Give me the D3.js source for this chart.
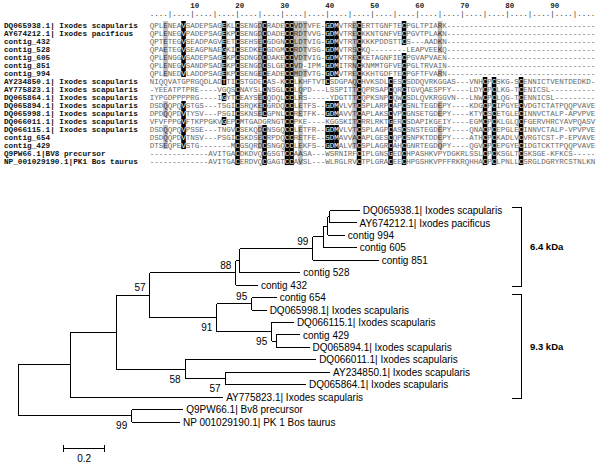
<!DOCTYPE html>
<html><head><meta charset="utf-8">
<script src="https://cdn.jsdelivr.net/npm/d3@7"></script>
<style>body{margin:0;background:#fff} svg{display:block}</style>
</head><body><svg id="c" width="600" height="473"></svg>
<script>
// ---------------- Alignment data ----------------
const seqNames = [
  "DQ065938.1| Ixodes scapularis","AY674212.1| Ixodes pacificus","contig_432","contig_528",
  "contig_605","contig_851","contig_994","AY234850.1| Ixodes scapularis",
  "AY775823.1| Ixodes scapularis","DQ065864.1| Ixodes scapularis","DQ065894.1| Ixodes scapularis",
  "DQ065998.1| Ixodes scapularis","DQ066011.1| Ixodes scapularis","DQ066115.1| Ixodes scapularis",
  "contig_654","contig_429","Q9PW66.1|BV8 precursor","NP_001029190.1|PK1 Bos taurus"
];
const seqs = [
  "QPLENEAVSADEPSAGEKLCSENGDCRADECCVDTVFE-GDMVTRECERTTGNFTECPGLTPIARK",
  "QPLENEGVPADEPSAGEKPCSENGDCDADECCRDTVVG-GDMVTRECKKNTGNFVECPGVTPLAKN",
  "QPTETEGVSEADPAGVEETCSEHSECGDGNCCLDTVIG-GDMVTRTCKKKPDDSTTCS---AADKN",
  "QPAETEGVSEAGPNAEGKICSEDKECGDGMCCRDTVSG-GDMVTRSCKQ--------LEAPVEEKQ",
  "QPLENGGVSADEPSAGEKPCSDNGDCDAKECCVDTVIG-GDMVTRECKETAGNFIECPGVAPVAEN",
  "QPLENEGVSANDPSADEKPCSENGDCSLGECCVD-IPM-GDMITRNCKNMMTGFVECPGLTRVAIN",
  "QPLENEDVLADDPSAGEKPCSENGECEADECCMDTVTG-GDMVTRECKKHTGDFTECPGFTFVARN",
  "NIQQVATGPRGQDLADTTICSTGDECAS-KCCLKHFTVTCSDGPAQCHVKSDLCESCSDDQVRKGGAS---VNHCPCSKG-SCENNICTVENTDEDKD-",
  "-YEEATPTPRE----VGQSCNAYSLCNSGLCCLQPD---LSSPITTCQPRSAPCQRCTGVQAESPFY----LDYCPCLKG-TCENICSL",
  "IYPGDPPPPRG----IGYTCEAYSECQDQLCCLRS-----YDGTTTCQPKSNPCQWCSDLQVKRGGVN---LNWCPCLQG-TCENNICSL",
  "DSDQQPQVSTGS---TSGICSRQKECGRDQCCLETFS--GDMVLVTCSPLARPCAPCSNLTEGDEPY----KDGCPCIPGYECVDGTCTATPQQPVAVE",
  "DPDQQPDVTYSV---PSGICSKNSECGPNLCCRETFK--GDMAVVTCAPLAKSCVPCGNSETGDEPY----KTYCSCETGLECINNVCTALP-APVPVE",
  "VFVFPPGVFTKPPGKVGEPCMTGADGRNGTCCPKE----KGGSKITCRRLRKTGERCSDAPIKGEIY----EGMCPCKLGLQCFGERVHRCYAVPQASV",
  "DSDQQPQVPSSE---TNGVCSEKQDCNSGQCCLETFR--GDMVLVTCSPLAGPCASCSNSTEGDEPY----QNACPCEPGLECINNVCTALP-VPVPVE",
  "DSDQQPDVTNSV---PSGICSKDSECRPDQCCRETFE--SDMAVVACAPLGESCQPCSNPKTDDEPY----ATHCPCKADLVCVRGTCST-P-EPVAVE",
  "DTSEQPEVSTG-------MCGSQRDCSNGQCCLEKFS--GDMALVTCSPLAGRCAHCGNRTEGDQPY----QGVCPCEPGYECIDGTCKTTPQQPVAVE",
  "-------------AVITGACDKDVQCGSGTCCAASA---WSRNIRFCIPLGNSGEDCHPASHKVPYDGKRLSSLCPCKSGLTCSKSGE-KFKCS",
  "-------------AVITGACERDVQCGAGTCCAVSL---WLRGLRVCTPLGRACEECHPGSHKVPFFRKRQHHACPCLPNLLCSRGLDGRYRCSTNLKN"
];
const alignLength = 99;
const rulerTicks = [10,20,30,40,50,60,70,80,90];
// shaded cells: column -> rows (1-based)
const blackCells = [
  {col:8, rows:"1-7,11-16"}, {col:17, rows:"1-8,10,13"}, {col:20, rows:"1-18"},
  {col:26, rows:"1-12,14-18"}, {col:31, rows:"1-18"}, {col:32, rows:"1-18"},
  {col:40, rows:"1-8,11,12,14-16"}, {col:41, rows:"1-7,11,12,14-16"}, {col:42, rows:"1-7,11,12,14-16"},
  {col:47, rows:"1-18"}, {col:54, rows:"8-18"}, {col:57, rows:"1-3,5-18"},
  {col:75, rows:"8-18"}, {col:77, rows:"8-18"}, {col:83, rows:"8-18"}
];
const grayCells = [
  {col:4, rows:"1-7,11,12,14-16"}, {col:25, rows:"1-7,10-12,14-16"},
  {col:33, rows:"1-7"}, {col:34, rows:"1-12,14-18"}, {col:35, rows:"1-5,7"},
  {col:46, rows:"1-16"}, {col:65, rows:"1-4,7,11,12,14-16"}
];

// ---------------- Tree data ----------------
const treeIds     = ["R","I","O","Q9PW66","NP","A","AY775823","B","C","N88r","N91","X","contig432","N99","contig528","Y","contig851","Z","contig605","W","contig994","DQ065938","AY674212","N95a","Q","contig654","DQ065998","DQ066115","N95b","contig429","DQ065894","DQ066011","C2","AY234850","DQ065864"];
const treeParents = ["",  "R","R","O",     "O", "I","I",       "A","A","B",   "B",  "N88r","N88r","X", "X",        "N99","N99",   "Y","Y",        "Z","Z",        "W",       "W",       "N91", "N91","N95a",    "N95a",    "Q",       "Q",   "N95b",     "N95b",    "C",      "C", "C2",      "C2"];
const branchLen   = [0,   0.249,0.545,0.248,0.232,0.221,0.736,0.163,0.332,0.413,0.321,0.019,0.106,0.351,0.291,0.050,0.317,0.021,0.161,0.011,0.083,0.144,0.128,0.168,0.264,0.120,0.072,0.107,0.021,0.115,0.161,0.630,0.192,0.505,0.389];
const leafText = {
  DQ065938:"DQ065938.1| Ixodes scapularis", AY674212:"AY674212.1| Ixodes pacificus",
  contig994:"contig 994", contig605:"contig 605", contig851:"contig 851", contig528:"contig 528",
  contig432:"contig 432", contig654:"contig 654", DQ065998:"DQ065998.1| Ixodes scapularis",
  DQ066115:"DQ066115.1| Ixodes scapularis", contig429:"contig 429", DQ065894:"DQ065894.1| Ixodes scapularis",
  DQ066011:"DQ066011.1| Ixodes scapularis", AY234850:"AY234850.1| Ixodes scapularis",
  DQ065864:"DQ065864.1| Ixodes scapularis", AY775823:"AY775823.1| Ixodes scapularis",
  Q9PW66:"Q9PW66.1| Bv8 precursor", NP:"NP 001029190.1| PK 1 Bos taurus"
};
const bootNodes  = ["N99","N88r","B","N95a","N91","Q","C","C2","O"];
const bootValues = [99, 88, 57, 95, 91, 95, 58, 57, 99];
const clades = [
  {label:"6.4 kDa", from:"DQ065938", to:"contig432"},
  {label:"9.3 kDa", from:"contig654", to:"AY775823"}
];
const scaleBarValue = 0.2;

// ---------------- Drawing ----------------
const svg = d3.select("#c");
const mono = "'Liberation Mono','DejaVu Sans Mono',monospace";
const sans = "'Liberation Sans',Arial,sans-serif";

function parseRows(s){
  const out=[]; s.split(",").forEach(p=>{const [a,b]=p.split("-").map(Number); for(let i=a;i<=(b||a);i++) out.push(i);}); return out;
}
const colX = d3.scaleLinear().domain([1, alignLength]).range([152, 152 + (alignLength-1)*4.5]);
const cw = colX(2)-colX(1);
const rowY = d3.scalePoint().domain(d3.range(seqs.length)).range([25, 161]);
const rh = rowY.step();

const full = seqs.map(s => s.padEnd(alignLength, "-"));
const shade = {};
blackCells.forEach(b => parseRows(b.rows).forEach(r => shade[(r-1)+"_"+b.col] = "black"));
grayCells.forEach(b => parseRows(b.rows).forEach(r => { if(!shade[(r-1)+"_"+b.col]) shade[(r-1)+"_"+b.col] = "gray"; }));

const gA = svg.append("g");
// ruler
gA.selectAll("text.rn").data(rulerTicks).join("text")
  .attr("x", d => colX(d) - cw/2).attr("y", 8)
  .attr("font-family", mono).attr("font-size", 7.5).attr("font-weight","bold").attr("fill","#222")
  .text(d => d);
gA.selectAll("text.rd").data(d3.range(1, alignLength+1)).join("text")
  .attr("x", d => colX(d)).attr("y", 16).attr("text-anchor","middle")
  .attr("font-family", mono).attr("font-size", 7.5).attr("fill","#333")
  .text(d => d % 5 === 0 ? "|" : ".");
// names
gA.selectAll("text.nm").data(seqNames).join("text")
  .attr("x", 4).attr("y", (d,i) => rowY(i) + 2.7)
  .attr("font-family", mono).attr("font-size", 7.7).attr("font-weight","bold").attr("fill","#111")
  .text(d => d);
// cells
const cells = [];
full.forEach((s, r) => s.split("").forEach((ch, c) => cells.push({r, c: c+1, ch, sh: ch !== "-" ? shade[r+"_"+(c+1)] : undefined})));
gA.selectAll("rect.cell").data(cells.filter(d => d.sh)).join("rect")
  .attr("x", d => colX(d.c) - cw/2).attr("y", d => rowY(d.r) - rh/2)
  .attr("width", cw + 0.05).attr("height", rh + 0.05)
  .attr("fill", d => d.sh === "black" ? "#000" : "#bdbdbd");
gA.selectAll("text.res").data(cells).join("text")
  .attr("x", d => colX(d.c)).attr("y", d => rowY(d.r) + 2.7).attr("text-anchor","middle")
  .attr("font-family", mono).attr("font-size", 7.5)
  .attr("fill", d => d.sh === "black" ? "#fff" : d.sh === "gray" ? "#333" : "#666")
  .text(d => d.ch);

// tree
const tbl = treeIds.map((id,i) => ({id, parent: treeParents[i] || null, len: branchLen[i]}));
const root = d3.stratify().id(d => d.id).parentId(d => d.parent)(tbl);
root.eachBefore(n => n.dist = n.parent ? n.parent.dist + n.data.len : 0);
const leaves = root.leaves();
const xT = d3.scaleLinear().domain([0, 1]).range([18.3, 226.3]);
const yT = d3.scalePoint().domain(leaves.map(d => d.id)).range([210.5, 422]);
root.eachAfter(n => { n.py = n.children ? (n.children[0].py + n.children[n.children.length-1].py)/2 : yT(n.id); });

const gT = svg.append("g").attr("stroke","#000").attr("stroke-width",1).attr("shape-rendering","crispEdges");
root.descendants().filter(n => n.parent).forEach(n => {
  gT.append("line").attr("x1", xT(n.parent.dist)).attr("x2", xT(n.dist)).attr("y1", n.py).attr("y2", n.py);
});
root.descendants().filter(n => n.children).forEach(n => {
  gT.append("line").attr("x1", xT(n.dist)).attr("x2", xT(n.dist))
    .attr("y1", n.children[0].py).attr("y2", n.children[n.children.length-1].py);
});
svg.append("g").selectAll("text").data(leaves).join("text")
  .attr("x", d => xT(d.dist) + 3).attr("y", d => d.py + 3.6)
  .attr("font-family", sans).attr("font-size", 10).attr("fill","#000")
  .text(d => leafText[d.id]);
const nodeById = new Map(root.descendants().map(n => [n.id, n]));
svg.append("g").selectAll("text").data(bootNodes).join("text")
  .attr("x", d => xT(nodeById.get(d).dist) - 10)
  .attr("y", d => { const n = nodeById.get(d); const first = n.parent.children[0] === n; return first ? n.py - 4 : n.py + 13.5; })
  .attr("text-anchor","middle").attr("font-family", sans).attr("font-size", 10).attr("fill","#000")
  .text((d,i) => bootValues[i]);

// clade brackets
const gC = svg.append("g");
clades.forEach(c => {
  const y0 = yT(c.from) - 3.5, y1 = yT(c.to) + 1.5, bx = 521;
  gC.append("path").attr("d", `M${bx-9},${y0}H${bx}V${y1}H${bx-9}`)
    .attr("fill","none").attr("stroke","#000").attr("stroke-width",1).attr("shape-rendering","crispEdges");
  gC.append("text").attr("x", bx + 9).attr("y", (y0+y1)/2 + 3.5)
    .attr("font-family", sans).attr("font-size", 9.5).attr("font-weight","bold").text(c.label);
});

// scale bar
const sx0 = 63.3, sx1 = sx0 + (xT(scaleBarValue) - xT(0)), sy = 448;
svg.append("path").attr("d", `M${sx0},${sy-3.5}V${sy+3.5}M${sx0},${sy}H${sx1}M${sx1},${sy-3.5}V${sy+3.5}`)
  .attr("stroke","#000").attr("fill","none").attr("shape-rendering","crispEdges");
svg.append("text").attr("x", (sx0+sx1)/2).attr("y", sy + 14).attr("text-anchor","middle")
  .attr("font-family", sans).attr("font-size", 10).text(scaleBarValue);
</script></body></html>
